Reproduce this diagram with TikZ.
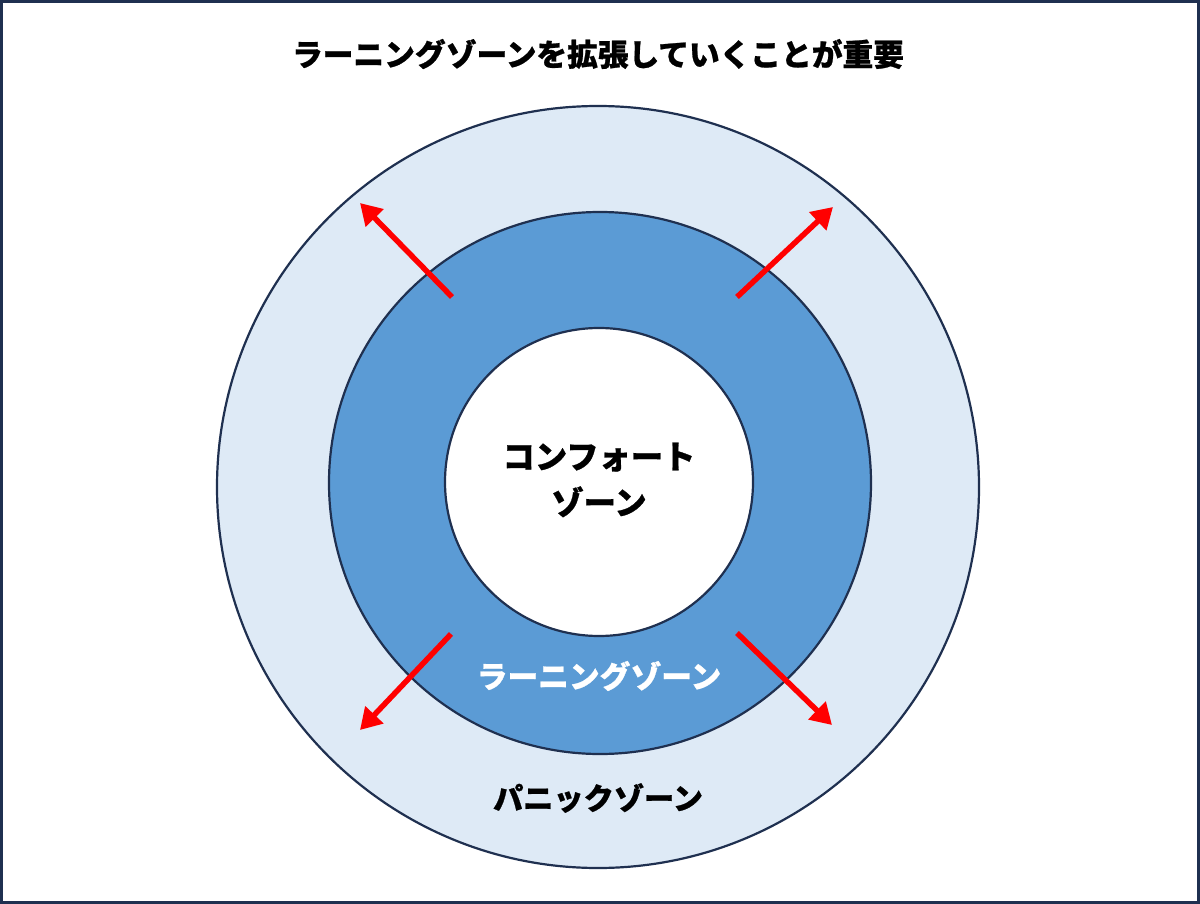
\documentclass[tikz,border=0pt]{standalone}
\usepackage{fontspec}
\newfontfamily\cjk{Noto Sans CJK JP}[BoldFeatures={FakeBold=0.8}]
\usetikzlibrary{arrows.meta}
\definecolor{navy}{HTML}{1F3050}
\definecolor{lightzone}{HTML}{DEEAF6}
\definecolor{midzone}{HTML}{5B9BD5}
\definecolor{arrowred}{HTML}{FF0000}
\tikzset{
  zone/.style={draw=navy, line width=2.2pt},
  growarrow/.style={draw=arrowred, line width=5.5pt, -{Triangle[length=21pt,width=24pt]}},
  lbl/.style={font=\cjk\bfseries, inner sep=0pt, align=center}
}
\begin{document}
\begin{tikzpicture}[x=1pt,y=-1pt]
\useasboundingbox (0,0) rectangle (1200,904);
\draw[draw=navy, line width=3pt, fill=white] (1.5,1.5) rectangle (1198.5,902.5);
\node[lbl, font=\cjk\bfseries\fontsize{30.7}{36}\selectfont] (title) at (598,54) {ラーニングゾーンを拡張していくことが重要};
\node[zone, circle, fill=lightzone, minimum size=762pt, inner sep=0pt] (outer) at (598,487) {};
\node[zone, circle, fill=midzone, minimum size=542pt, inner sep=0pt] (mid) at (600,483) {};
\node[zone, circle, fill=white, minimum size=308pt, inner sep=0pt] (inner) at (599,482) {};
\node[lbl, font=\cjk\bfseries\fontsize{32.3}{46}\selectfont] (comfort) at (599,480) {コンフォート\\ゾーン};
\node[lbl, text=white, font=\cjk\bfseries\fontsize{30.7}{36}\selectfont] (learn) at (599,676) {ラーニングゾーン};
\node[lbl, font=\cjk\bfseries\fontsize{30.2}{36}\selectfont] (panic) at (598,798) {パニックゾーン};
\coordinate (a1s) at (452,297); \coordinate (a1e) at (360,203);
\coordinate (a2s) at (737,297); \coordinate (a2e) at (833,207);
\coordinate (a3s) at (451,634); \coordinate (a3e) at (360,730);
\coordinate (a4s) at (737,633); \coordinate (a4e) at (832,725);
\draw[growarrow] (a1s) -- (a1e);
\draw[growarrow] (a2s) -- (a2e);
\draw[growarrow] (a3s) -- (a3e);
\draw[growarrow] (a4s) -- (a4e);
\end{tikzpicture}
\end{document}
